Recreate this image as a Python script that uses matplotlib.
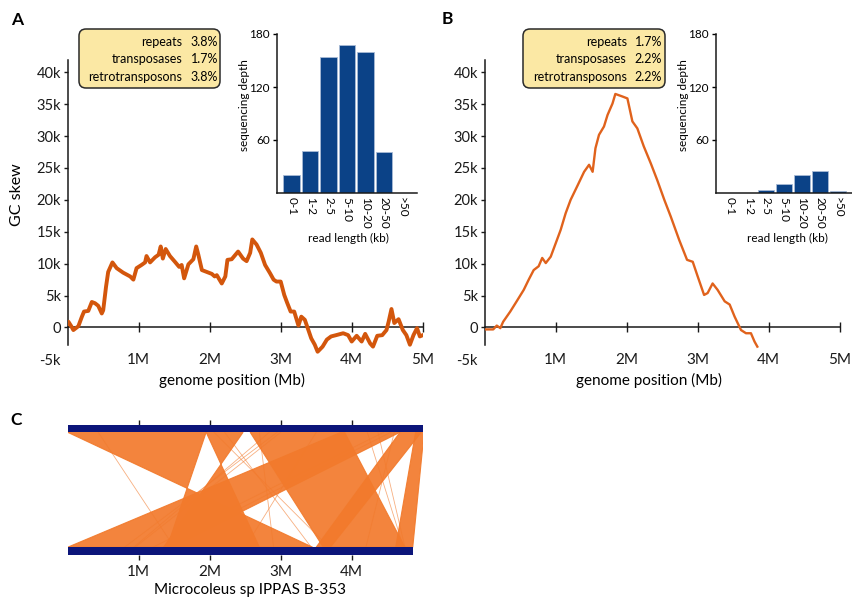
import matplotlib
matplotlib.use("Agg")
import matplotlib.pyplot as plt
from matplotlib.patches import FancyBboxPatch

plt.rcParams['font.family'] = ['Lato', 'DejaVu Sans']

W, H = 852, 599

# ---- data -------------------------------------------------------------
# GC skew, panel A (position in Mb, skew in thousands)
gc_a_pos = [0.0, 0.01, 0.05, 0.08, 0.15, 0.2, 0.23, 0.29, 0.34, 0.385, 0.43, 0.48, 0.5,
            0.54, 0.57, 0.63, 0.69, 0.78, 0.88, 0.925, 0.97, 1.04, 1.09, 1.11, 1.16, 1.23,
            1.28, 1.31, 1.34, 1.38, 1.44, 1.51, 1.57, 1.605, 1.64, 1.70, 1.77, 1.81, 1.84,
            1.89, 1.96, 2.03, 2.07, 2.10, 2.17, 2.22, 2.25, 2.31, 2.40, 2.47, 2.52, 2.57,
            2.60, 2.66, 2.72, 2.78, 2.85, 2.90, 2.94, 3.0, 3.05, 3.09, 3.14, 3.19, 3.25,
            3.29, 3.34, 3.39, 3.43, 3.48, 3.52, 3.59, 3.65, 3.71, 3.78, 3.88, 3.95, 4.0,
            4.07, 4.14, 4.19, 4.26, 4.30, 4.36, 4.43, 4.49, 4.52, 4.56, 4.60, 4.66, 4.72,
            4.77, 4.82, 4.87, 4.92, 4.96, 5.0]
gc_a_val = [0.6, 0.9, 0.2, -0.4, 0.2, 1.7, 2.5, 2.6, 4.0, 3.8, 3.4, 2.2, 2.7,
            6.4, 8.7, 10.2, 9.3, 8.6, 8.0, 7.5, 9.3, 9.8, 10.2, 11.2, 10.2, 11.0,
            11.4, 12.7, 10.8, 12.3, 11.2, 10.3, 9.5, 9.8, 7.7, 9.9, 10.7, 12.7, 11.4,
            9.0, 8.7, 8.4, 8.0, 8.2, 6.9, 8.0, 10.6, 10.7, 11.9, 10.8, 10.4, 11.7,
            13.8, 13.0, 11.7, 9.8, 8.5, 7.5, 7.2, 7.2, 5.1, 3.9, 2.5, 2.5, 0.3,
            1.7, 1.2, -0.4, -1.7, -2.7, -3.8, -3.0, -1.9, -1.4, -1.2, -0.9, -1.2, -2.2,
            -1.3, -2.2, -1.0, -2.5, -3.0, -1.3, -1.2, -0.4, 0.9, 2.9, 0.7, 1.3, -0.4,
            -1.2, -2.7, -1.2, -0.1, -1.4, -1.2]

# GC skew, panel B
gc_b_pos = [0.0, 0.12, 0.17, 0.22, 0.26, 0.36, 0.45, 0.55, 0.62, 0.69, 0.76, 0.81, 0.86,
            0.93, 1.0, 1.07, 1.14, 1.21, 1.31, 1.40, 1.47, 1.52, 1.56, 1.61, 1.68, 1.73,
            1.80, 1.84, 1.94, 2.01, 2.08, 2.15, 2.24, 2.34, 2.43, 2.53, 2.62, 2.74, 2.85,
            2.93, 3.0, 3.09, 3.14, 3.21, 3.28, 3.38, 3.45, 3.52, 3.61, 3.68, 3.75, 3.80, 3.84]
gc_b_val = [-0.3, -0.3, 0.3, -0.1, 0.9, 2.5, 4.1, 5.9, 7.5, 9.0, 9.6, 10.9, 10.1,
            11.1, 13.2, 15.3, 17.9, 20.0, 22.3, 24.4, 25.5, 24.4, 28.1, 30.2, 31.5, 33.3,
            35.1, 36.6, 36.2, 35.9, 32.3, 31.2, 28.4, 25.7, 23.1, 20.0, 17.4, 13.7, 10.6,
            10.3, 8.0, 5.1, 5.4, 6.9, 5.9, 4.1, 3.6, 1.7, -0.4, -0.9, -0.9, -2.2, -3.0]

# read length histograms
read_bins = ['0-1', '1-2', '2-5', '5-10', '10-20', '20-50', '>50']
depth_a = [20, 47, 154, 167, 160, 46, 0]
depth_b = [0, 0, 3.4, 10, 20, 25, 2]

# repeat content boxes
box_labels = ['repeats', 'transposases', 'retrotransposons']
box_a_vals = ['3.8%', '1.7%', '3.8%']
box_b_vals = ['1.7%', '2.2%', '2.2%']

# synteny blocks (Mb): top start/end paired with bottom start/end
blk_top_start = [0.0, 1.95, 3.85, 2.57, 4.68, 4.9]
blk_top_end = [1.95, 2.47, 4.68, 3.9, 4.98, 5.02]
blk_bot_start = [3.45, 2.7, 0.0, 3.6, 3.5, 4.62]
blk_bot_end = [1.4, 1.35, 1.45, 4.75, 3.7, 4.86]
# single matches outside the blocks
single_top = [0.43, 2.95, 3.0, 3.5, 2.06, 4.22, 4.37, 4.45, 4.55, 2.21, 2.84, 4.6, 2.7]
single_bot = [1.5, 0.8, 0.95, 2.5, 3.68, 4.73, 4.75, 1.2, 1.35, 3.43, 0.93, 4.2, 2.9]
genome_len_top = 5.02
genome_len_bot = 4.86

ORANGE_LINE_A = '#d3560c'
ORANGE_LINE_B = '#e0621c'
ORANGE_SYN = '#f27a2c'
NAVY = '#0c157a'
BAR_BLUE = '#0b4287'
INK = '#1a1a1a'


def px_rect(left, top, right, bottom):
    return [left / W, 1 - bottom / H, (right - left) / W, (bottom - top) / H]


fig = plt.figure(figsize=(W / 100, H / 100), dpi=100)


def gc_panel(rect, pos, val, color, lw, ylabel):
    ax = fig.add_axes(rect)
    ax.plot(pos, val, color=color, lw=lw, solid_joinstyle='round', zorder=3)
    ax.set_xlim(0, 5.0)
    ax.set_ylim(-5, 42)
    for s in ['top', 'right']:
        ax.spines[s].set_visible(False)
    ax.spines['bottom'].set_position(('data', 0))
    ax.spines['left'].set_bounds(-2.7, 42)
    for s in ['bottom', 'left']:
        ax.spines[s].set_linewidth(1.1)
        ax.spines[s].set_color(INK)
    ax.set_xticks([1, 2, 3, 4, 5])
    ax.set_xticklabels(['1M', '2M', '3M', '4M', '5M'], fontsize=11)
    ax.set_yticks(range(-5, 41, 5))
    ax.set_yticklabels([('%dk' % v) if v != 0 else '0' for v in range(-5, 41, 5)], fontsize=10.5)
    ax.tick_params(axis='x', direction='inout', length=7, width=1, pad=15, colors=INK)
    ax.tick_params(axis='y', direction='out', length=3, width=1, pad=2, colors=INK)
    ax.yaxis.get_major_ticks()[0].tick1line.set_visible(False)
    ax.set_xlabel('genome position (Mb)', fontsize=11)
    ax.xaxis.set_label_coords(0.463, -0.069)
    ax.xaxis.label.set_va('center')
    if ylabel:
        ax.set_ylabel(ylabel, fontsize=11.5)
        ax.yaxis.label.set_va('center')
        ax.yaxis.set_label_coords(-0.143, 0.551)
    return ax


def hist_inset(rect, depth, ylab_x, xlab_x):
    ax = fig.add_axes(rect)
    ax.bar(range(len(read_bins)), depth, width=0.9, color=BAR_BLUE,
           edgecolor='#a8bbd6', linewidth=0.6, zorder=2)
    ax.set_ylim(0, 180)
    for s in ['top', 'right']:
        ax.spines[s].set_visible(False)
    for s in ['bottom', 'left']:
        ax.spines[s].set_linewidth(1.1)
        ax.spines[s].set_color(INK)
    ax.set_yticks([60, 120, 180])
    ax.set_xticks(range(len(read_bins)))
    ax.set_xticklabels(read_bins, rotation=-90, fontsize=8.5)
    ax.tick_params(axis='x', length=0, pad=3)
    ax.tick_params(axis='y', direction='out', length=3, width=1, pad=2, labelsize=8.5)
    ax.set_ylabel('sequencing depth', fontsize=8.5)
    ax.yaxis.label.set_va('center')
    ax.yaxis.set_label_coords(ylab_x, 0.553)
    ax.set_xlabel('read length (kb)', fontsize=8.5)
    ax.xaxis.label.set_va('center')
    ax.xaxis.set_label_coords(xlab_x, -0.283)
    ax.patch.set_alpha(0)
    return ax


def info_box(x0, x1, lab_right, val_right, vals):
    y0, y1 = 29, 88
    box = FancyBboxPatch((x0 / 100, (H - y1) / 100), (x1 - x0) / 100, (y1 - y0) / 100,
                         boxstyle='round,pad=0,rounding_size=0.07',
                         transform=fig.dpi_scale_trans, facecolor='#fbe8a4',
                         edgecolor='#2a2a2a', linewidth=1.1, zorder=5)
    fig.patches.append(box)
    for row_y, lab, v in zip([41.5, 59.3, 77.3], box_labels, vals):
        fig.text(lab_right / W, 1 - row_y / H, lab, ha='right', va='center',
                 fontsize=9, zorder=6)
        fig.text(val_right / W, 1 - row_y / H, v, ha='right', va='center',
                 fontsize=9, zorder=6)


# ---- panel A ----------------------------------------------------------
ax_a = gc_panel(px_rect(67.7, 59.5, 422.7, 359.4), gc_a_pos, gc_a_val, ORANGE_LINE_A, 2.8, 'GC skew')
hist_inset(px_rect(277, 34, 417, 193), depth_a, -0.235, 0.507)
info_box(79, 220, 182, 218, box_a_vals)

# ---- panel B ----------------------------------------------------------
ax_b = gc_panel(px_rect(484.7, 59.5, 839.7, 359.4), gc_b_pos, gc_b_val, ORANGE_LINE_B, 1.7, None)
hist_inset(px_rect(716, 34, 852, 193), depth_b, -0.24, 0.526)
info_box(523, 665, 627, 662, box_b_vals)

# ---- panel C: synteny -------------------------------------------------
ax_c = fig.add_axes(px_rect(67.7, 410.1, 422.7, 569.4))
ax_c.set_xlim(0, 5.0)
ax_c.set_ylim(-0.15, 1.15)
bar_h = 0.062
y_top = 1 - bar_h / 2
y_bot = bar_h / 2
for ts, te, bs, be in zip(blk_top_start, blk_top_end, blk_bot_start, blk_bot_end):
    ax_c.fill([ts, te, be, bs], [y_top, y_top, y_bot, y_bot], color=ORANGE_SYN,
              alpha=0.92, lw=0.8, zorder=1)
for t, b in zip(single_top, single_bot):
    ax_c.plot([t, b], [y_top, y_bot], color=ORANGE_SYN, lw=0.6, alpha=0.6, zorder=1)
ax_c.barh([1, 0], [genome_len_top, genome_len_bot], height=bar_h, left=0, color=NAVY, zorder=3)
for s in ['left', 'right']:
    ax_c.spines[s].set_visible(False)
ax_c.spines['top'].set_position(('data', 1 + bar_h / 2))
ax_c.spines['bottom'].set_position(('data', -bar_h / 2))
ax_c.spines['top'].set_color('none')
ax_c.spines['bottom'].set_color('none')
ax_c.set_yticks([])
ax_c.set_xticks([1, 2, 3, 4])
ax_c.set_xticklabels(['1M', '2M', '3M', '4M'], fontsize=11)
ax_c.tick_params(axis='x', top=True, bottom=True, labeltop=False, direction='out',
                 length=3.6, width=1, pad=3.5, colors=INK)
ax_c.set_xlabel('Microcoleus sp IPPAS B-353', fontsize=11)
ax_c.xaxis.label.set_va('center')
ax_c.xaxis.set_label_coords(0.513, -0.129)
ax_c.patch.set_alpha(0)

# panel letters
fig.text(17 / W, 1 - 20 / H, 'A', fontsize=12.5, fontweight='bold', ha='center', va='center')
fig.text(447 / W, 1 - 19 / H, 'B', fontsize=12.5, fontweight='bold', ha='center', va='center')
fig.text(16 / W, 1 - 420 / H, 'C', fontsize=12.5, fontweight='bold', ha='center', va='center')

fig.savefig('out.png', dpi=100)
